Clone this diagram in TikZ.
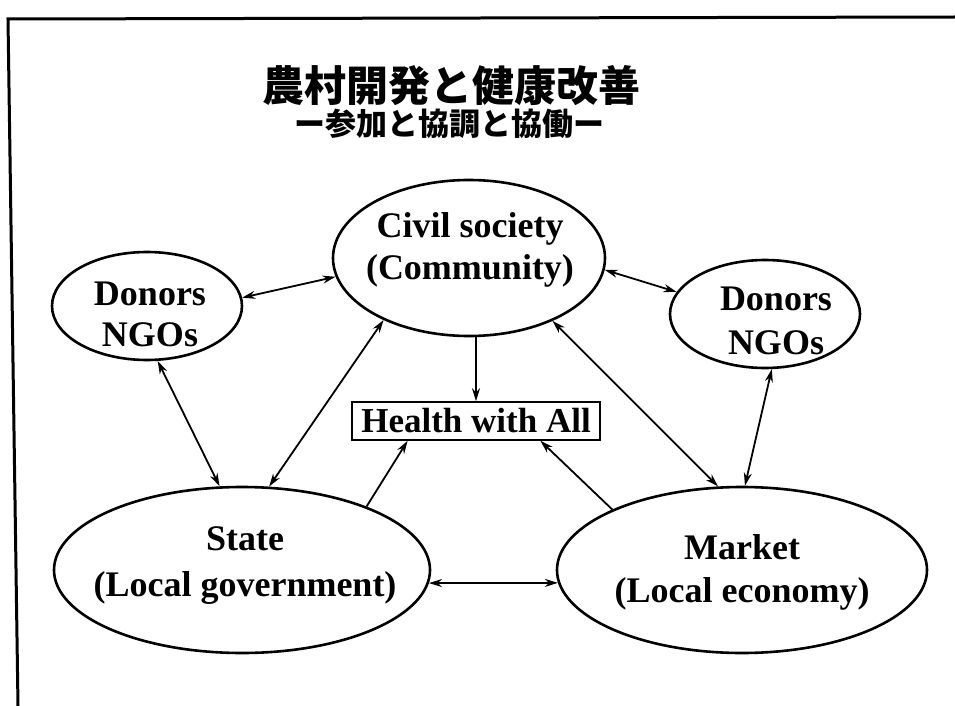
\documentclass[tikz,border=0pt]{standalone}
\usepackage{fontspec}
\setmainfont{Liberation Serif}
\newfontfamily\cjk{Noto Sans CJK JP}
\usetikzlibrary{shapes.geometric,arrows.meta,calc}
\begin{document}
\begin{tikzpicture}[x=1pt,y=-1pt,
  oval/.style={ellipse,draw,line width=2.6pt,inner sep=0pt},
  lbl/.style={font=\fontsize{36}{42}\selectfont\bfseries,align=center,inner sep=0pt},
  tip/.tip={Stealth[length=13pt,width=8pt]},
  link/.style={line width=1.8pt,tip-tip},
  onelink/.style={line width=1.8pt,-tip},
]
\useasboundingbox (0,0) rectangle (955,706);
\coordinate (fbl) at (18,706);
\coordinate (ftl) at (8,19);
\coordinate (ftr) at (955,17);
\draw[line width=3pt] (fbl) -- (ftl) -- (ftr);

\node[font=\cjk\bfseries\fontsize{42}{46}\selectfont,inner sep=0pt] (title) at (451,86) {農村開発と健康改善};
\node[font=\cjk\bfseries\fontsize{31}{35}\selectfont,inner sep=0pt] (subtitle) at (449,124) {ー参加と協調と協働ー};

\node[oval,minimum width=272pt,minimum height=156pt] (civil) at (469,258) {};
\node[oval,minimum width=190pt,minimum height=108pt] (ldon) at (147,306) {};
\node[oval,minimum width=190pt,minimum height=108pt] (rdon) at (765,314) {};
\node[oval,minimum width=376pt,minimum height=166pt] (state) at (242,570) {};
\node[oval,minimum width=370pt,minimum height=166pt] (market) at (742,570) {};

\node[lbl] (civiltxt) at (470,250) {Civil society\\(Community)};
\node[lbl,font=\fontsize{36}{41}\selectfont\bfseries] (ldontxt) at (150,314) {Donors\\NGOs};
\node[lbl,font=\fontsize{36}{44}\selectfont\bfseries] (rdontxt) at (776,321) {Donors\\NGOs};
\node[lbl,font=\fontsize{36}{46}\selectfont\bfseries] (statetxt) at (245,566) {State\\(Local government)};
\node[lbl,font=\fontsize{36}{43}\selectfont\bfseries] (markettxt) at (742,572) {Market\\(Local economy)};

\node[draw,line width=1.6pt,minimum width=248pt,minimum height=38pt,inner sep=0pt,
      font=\fontsize{35}{40}\selectfont\bfseries] (health) at (476,421) {Health with All};

\draw[link] (ldon.5) -- (civil.188);
\draw[link] (civil.355) -- (rdon.166);
\draw[onelink] (health.north |- civil.south) -- (health.north);
\draw[link] (ldon.281) -- (state.105);
\draw[link] (civil.216) -- (state.72);
\draw[onelink] (state.27) -- ($(health.south west)!0.226!(health.south east)$);
\draw[onelink] (market.155) -- ($(health.south west)!0.758!(health.south east)$);
\draw[link] (civil.323) -- (market.106);
\draw[link] (rdon.277) -- (market.88);
\draw[link] (state.356) -- (market.184);
\end{tikzpicture}
\end{document}
